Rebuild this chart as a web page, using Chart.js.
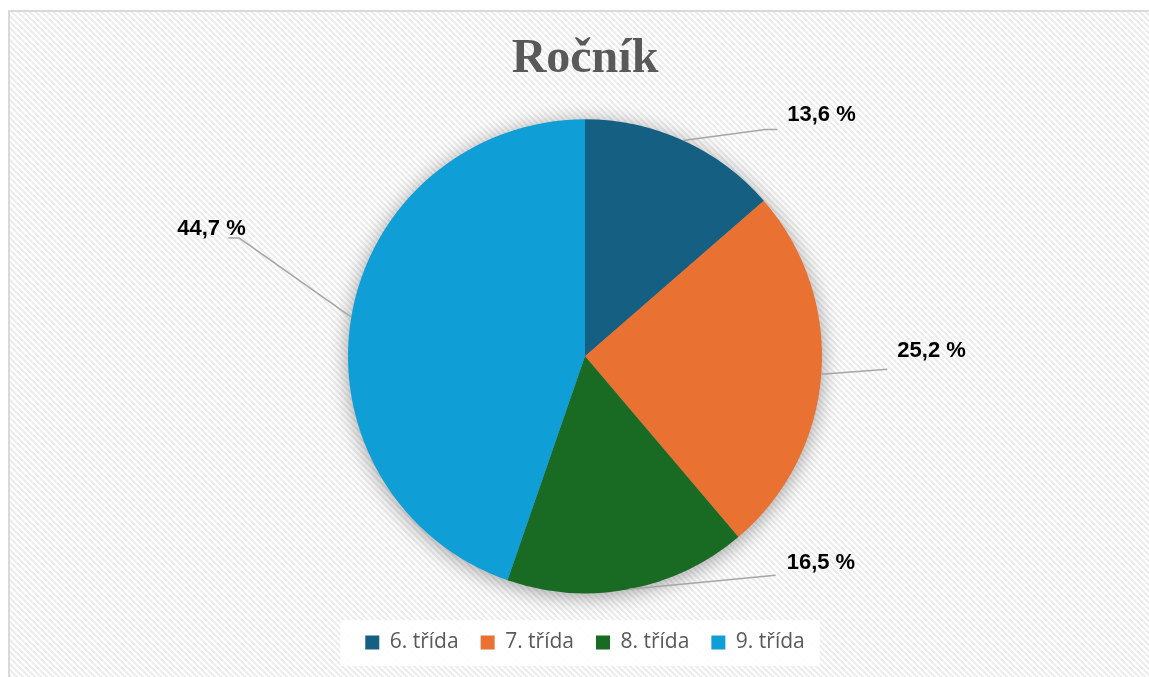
<!DOCTYPE html>
<html>
<head>
<meta charset="utf-8">
<script src="https://cdn.jsdelivr.net/npm/chart.js@4"></script>
<style>
  html, body { margin: 0; padding: 0; background: #fff; overflow: hidden; }
  canvas { display: block; }
</style>
</head>
<body>
<canvas id="rocnik" width="1149" height="677"></canvas>
<script>
var tridy = ['6. třída', '7. třída', '8. třída', '9. třída'];
var podily = [13.6, 25.2, 16.5, 44.7];
var barvy = ['#156082', '#E97132', '#196B24', '#0F9ED5'];

// vodici cary a popisky, posun od okraje vysece
var popisky = [
  { line: [[82, -11], [94, -11]], text: [104, -26] },
  { line: [[66, -5]], text: [76, -23] },
  { line: [[147, -14]], text: [158, -26] },
  { line: [[-112, -79], [-123, -79]], text: [-174, -88] }
];

var pozadi = {
  id: 'pozadi',
  beforeDraw: function (chart) {
    var ctx = chart.ctx;
    var p = document.createElement('canvas');
    p.width = 6; p.height = 6;
    var pc = p.getContext('2d');
    pc.fillStyle = '#ffffff';
    pc.fillRect(0, 0, 6, 6);
    pc.strokeStyle = '#ececec';
    pc.lineWidth = 2;
    [-6, 0, 6].forEach(function (o) {
      pc.beginPath();
      pc.moveTo(o - 1, -1);
      pc.lineTo(o + 7, 7);
      pc.stroke();
    });
    ctx.save();
    ctx.fillStyle = '#ffffff';
    ctx.fillRect(0, 0, chart.width, chart.height);
    ctx.fillStyle = ctx.createPattern(p, 'repeat');
    ctx.fillRect(9, 11, chart.width - 9, chart.height - 11);
    // ramecek jen nahore a vlevo, zbytek je mimo platno
    ctx.strokeStyle = '#d9d9d9';
    ctx.lineWidth = 2;
    ctx.beginPath();
    ctx.moveTo(9, chart.height);
    ctx.lineTo(9, 11);
    ctx.lineTo(chart.width, 11);
    ctx.stroke();

    // bily podklad legendy
    var lg = chart.legend;
    if (lg && lg.lineWidths) {
      var pad = lg.options.labels.padding;
      var w = lg.lineWidths[0] - pad;
      var x0 = (lg.left + pad + lg.right - lg.lineWidths[0]) / 2;
      var yc = lg.top + pad + 10;
      ctx.fillStyle = 'rgba(255,255,255,0.92)';
      ctx.fillRect(x0 - 25, yc - 22, w + 40, 46);
    }
    ctx.restore();
  }
};

var stin = {
  id: 'stin',
  beforeDatasetsDraw: function (chart) {
    var arc = chart.getDatasetMeta(0).data[0];
    if (!arc) return;
    var ctx = chart.ctx;
    ctx.save();
    ctx.shadowColor = 'rgba(0,0,0,0.4)';
    ctx.shadowBlur = 22;
    ctx.shadowOffsetY = 3;
    ctx.fillStyle = '#888';
    ctx.beginPath();
    ctx.arc(arc.x, arc.y, arc.outerRadius - 1, 0, Math.PI * 2);
    ctx.fill();
    ctx.restore();
  }
};

var hodnoty = {
  id: 'hodnoty',
  afterDatasetsDraw: function (chart) {
    var ctx = chart.ctx;
    var meta = chart.getDatasetMeta(0);
    ctx.save();
    meta.data.forEach(function (arc, i) {
      var a = (arc.startAngle + arc.endAngle) / 2;
      var ex = arc.x + Math.cos(a) * arc.outerRadius;
      var ey = arc.y + Math.sin(a) * arc.outerRadius;
      var p = popisky[i];
      ctx.strokeStyle = '#a6a6a6';
      ctx.lineWidth = 1.5;
      ctx.beginPath();
      ctx.moveTo(ex, ey);
      p.line.forEach(function (d) { ctx.lineTo(ex + d[0], ey + d[1]); });
      ctx.stroke();
      ctx.fillStyle = '#000000';
      ctx.font = 'bold 22px "Liberation Sans", Arial, sans-serif';
      ctx.textAlign = 'left';
      ctx.textBaseline = 'middle';
      var txt = podily[i].toFixed(1).replace('.', ',') + ' %';
      ctx.fillText(txt, ex + p.text[0], ey + p.text[1]);
    });
    ctx.restore();
  }
};

new Chart(document.getElementById('rocnik'), {
  type: 'pie',
  data: {
    labels: tridy,
    datasets: [{
      data: podily,
      backgroundColor: barvy,
      borderWidth: 0,
      radius: 237
    }]
  },
  options: {
    responsive: false,
    animation: false,
    layout: { padding: { left: 30, right: 9, top: 0, bottom: 14 } },
    plugins: {
      title: {
        display: true,
        text: 'Ročník',
        color: '#595959',
        font: { family: '"Liberation Serif", "Times New Roman", serif', size: 48, weight: 'bold' },
        padding: { top: 31, bottom: 14 }
      },
      legend: {
        position: 'bottom',
        labels: {
          color: '#595959',
          font: { family: '"Open Sans", sans-serif', size: 21 },
          boxWidth: 14,
          boxHeight: 14,
          padding: 22
        }
      },
      tooltip: { enabled: false }
    }
  },
  plugins: [pozadi, stin, hodnoty]
});
</script>
</body>
</html>
